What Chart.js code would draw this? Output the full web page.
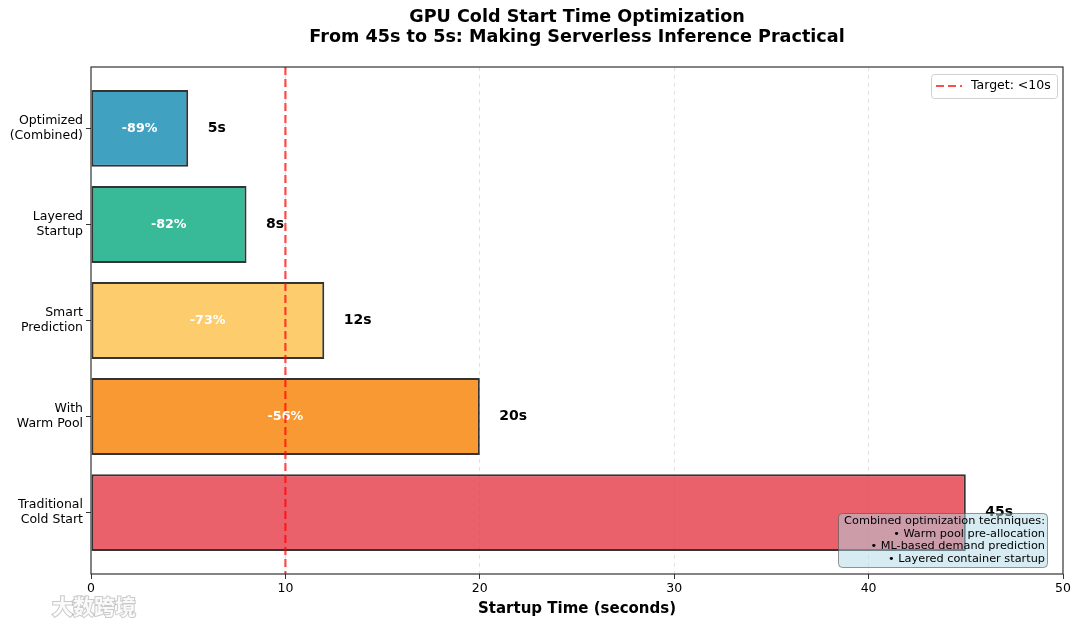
<!DOCTYPE html>
<html>
<head>
<meta charset="utf-8">
<script src="https://cdn.jsdelivr.net/npm/chart.js@4/dist/chart.umd.min.js"></script>
<style>
  html, body { margin: 0; padding: 0; background: #fff; }
  #wrap { width: 1080px; height: 625px; position: relative; }
</style>
</head>
<body>
<div id="wrap"><canvas id="myChart"></canvas></div>
<script>
// top to bottom
const categories = [["Optimized", "(Combined)"], ["Layered", "Startup"], ["Smart", "Prediction"], ["With", "Warm Pool"], ["Traditional", "Cold Start"]];
const startupTimes = [5, 8, 12, 20, 45];
const reductions = ["-89%", "-82%", "-73%", "-56%", ""];
const barColors = ["rgba(17,138,178,0.8)", "rgba(6,167,125,0.8)", "rgba(252,191,73,0.8)", "rgba(247,127,0,0.8)", "rgba(230,57,70,0.8)"];
const xTicks = [0, 10, 20, 30, 40, 50];
const targetValue = 10;
const targetLabel = "Target: <10s";
const titleLines = ["GPU Cold Start Time Optimization", "From 45s to 5s: Making Serverless Inference Practical"];
const noteLines = ["Combined optimization techniques:", "\u2022 Warm pool pre-allocation", "\u2022 ML-based demand prediction", "\u2022 Layered container startup"];

const FONT = "'DejaVu Sans', sans-serif";
Chart.defaults.font.family = FONT;
Chart.defaults.color = "#000";

const points = startupTimes.map((v, i) => ({ x: v, y: i }));

const extras = {
    id: "extras",
    afterDatasetsDraw(chart) {
        const ctx = chart.ctx;
        const a = chart.chartArea;
        const xs = chart.scales.x, ys = chart.scales.y;
        ctx.save();

        // bar labels
        ctx.textBaseline = "middle";
        for (let i = 0; i < startupTimes.length; i++) {
            const yp = ys.getPixelForValue(i);
            ctx.fillStyle = "#000";
            ctx.font = "bold 14px " + FONT;
            ctx.textAlign = "left";
            ctx.fillText(startupTimes[i] + "s", xs.getPixelForValue(startupTimes[i] + 1), yp);
            if (reductions[i]) {
                ctx.fillStyle = "#fff";
                ctx.font = "bold 12.7px " + FONT;
                ctx.textAlign = "center";
                ctx.fillText(reductions[i], xs.getPixelForValue(startupTimes[i] / 2), yp);
            }
        }

        // target line
        const tx = xs.getPixelForValue(targetValue);
        ctx.strokeStyle = "rgba(255,0,0,0.7)";
        ctx.lineWidth = 2.2;
        ctx.setLineDash([8, 4]);
        ctx.beginPath();
        ctx.moveTo(tx, a.top);
        ctx.lineTo(tx, a.bottom);
        ctx.stroke();
        ctx.setLineDash([]);

        // frame
        ctx.strokeStyle = "#333";
        ctx.lineWidth = 1.2;
        ctx.strokeRect(a.left, a.top, a.right - a.left, a.bottom - a.top);

        // legend
        ctx.fillStyle = "rgba(255,255,255,0.85)";
        ctx.strokeStyle = "#d0d0d0";
        ctx.lineWidth = 1;
        ctx.beginPath();
        ctx.roundRect(931.5, 74.5, 126, 24, 3);
        ctx.fill();
        ctx.stroke();
        ctx.strokeStyle = "rgba(255,0,0,0.7)";
        ctx.lineWidth = 2.2;
        ctx.setLineDash([8, 4]);
        ctx.beginPath();
        ctx.moveTo(936, 86);
        ctx.lineTo(962, 86);
        ctx.stroke();
        ctx.setLineDash([]);
        ctx.fillStyle = "#000";
        ctx.font = "12.5px " + FONT;
        ctx.textAlign = "left";
        ctx.fillText(targetLabel, 971, 86);

        // note box
        ctx.fillStyle = "rgba(173,216,230,0.5)";
        ctx.strokeStyle = "rgba(80,80,80,0.6)";
        ctx.lineWidth = 1;
        ctx.beginPath();
        ctx.roundRect(838.5, 513.5, 209, 54, 4);
        ctx.fill();
        ctx.stroke();
        ctx.fillStyle = "#000";
        ctx.font = "11.3px " + FONT;
        ctx.textAlign = "right";
        noteLines.forEach((t, i) => ctx.fillText(t, 1045, 521 + i * 12.7));

        // title
        ctx.font = "bold 17.6px " + FONT;
        ctx.textAlign = "center";
        const cx = (a.left + a.right) / 2;
        ctx.fillText(titleLines[0], cx, 17);
        ctx.fillText(titleLines[1], cx, 37);

        // watermark
        ctx.font = "bold 21px 'Noto Sans CJK SC', sans-serif";
        ctx.textAlign = "left";
        ctx.lineWidth = 2;
        ctx.strokeStyle = "rgba(150,150,150,0.5)";
        ctx.fillStyle = "rgba(255,255,255,0.9)";
        ctx.strokeText("\u5927\u6570\u8de8\u5883", 52, 606);
        ctx.fillText("\u5927\u6570\u8de8\u5883", 52, 606);
        ctx.restore();
    }
};

new Chart("myChart", {
    type: "bar",
    data: {
        datasets: [{
            data: points,
            backgroundColor: barColors,
            borderColor: "rgba(0,0,0,0.8)",
            borderWidth: 2,
            borderSkipped: false,
            barPercentage: 0.8,
            categoryPercentage: 1
        }]
    },
    options: {
        indexAxis: "y",
        responsive: true,
        maintainAspectRatio: false,
        animation: false,
        layout: { padding: { top: 67, right: 17, left: 0, bottom: 0 } },
        plugins: {
            legend: { display: false },
            tooltip: { enabled: false }
        },
        scales: {
            x: {
                type: "linear",
                min: 0,
                max: 50,
                afterBuildTicks: s => { s.ticks = xTicks.map(v => ({ value: v })); },
                afterFit: s => { s.height = 51; },
                ticks: { font: { size: 12.5 }, color: "#000", padding: 2 },
                grid: {
                    color: ctx => (ctx.tick && (ctx.tick.value === 0 || ctx.tick.value === 50)) ? "rgba(0,0,0,0)" : "rgba(160,160,160,0.3)",
                    tickLength: 5,
                    tickColor: "#333"
                },
                border: { display: false, dash: [4, 4] },
                title: {
                    display: true,
                    text: "Startup Time (seconds)",
                    font: { size: 15, weight: "bold" },
                    color: "#000",
                    padding: { top: 0, bottom: 7 }
                }
            },
            y: {
                type: "linear",
                offset: false,
                min: -0.64,
                max: 4.64,
                reverse: true,
                afterBuildTicks: s => { s.ticks = categories.map((c, i) => ({ value: i })); },
                afterFit: s => { s.width = 91; },
                ticks: {
                    font: { size: 12.5 },
                    color: "#000",
                    padding: 3,
                    callback: v => categories[v]
                },
                grid: { offset: false, drawOnChartArea: false, tickLength: 5, tickColor: "#333" },
                border: { display: false }
            }
        }
    },
    plugins: [extras]
});
</script>
</body>
</html>
